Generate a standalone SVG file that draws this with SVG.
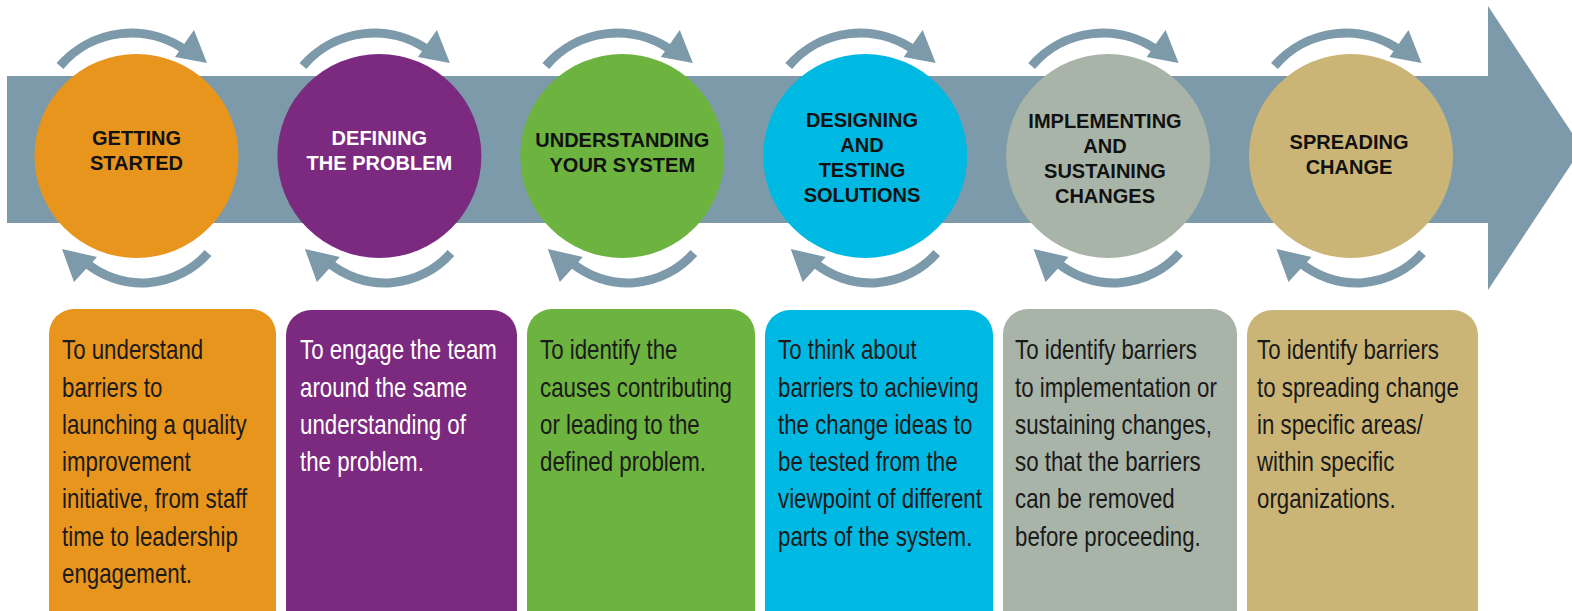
<svg xmlns="http://www.w3.org/2000/svg" xmlns:xlink="http://www.w3.org/1999/xlink" width="1572" height="611" viewBox="0 0 1572 611">
<style>
.ct{font-family:"Liberation Sans",Arial,sans-serif;font-weight:bold;font-size:20px;fill:#111;text-anchor:middle}
.bt{font-family:"Liberation Sans",Arial,sans-serif;font-size:27px;fill:#1a1a1a}
.w{fill:#fff}
.arc{fill:none;stroke:#7C9AAA;stroke-width:9}
.head{fill:#7C9AAA}
</style>
<defs>
<g id="loop">
<path class="arc" d="M-76.5,-90 A94,94 0 0 1 51.5,-104"/>
<polygon class="head" points="57.5,-126 70.5,-93 38.5,-99"/>
<path class="arc" d="M71.5,97 A88,88 0 0 1 -51.5,106"/>
<polygon class="head" points="-74.5,93 -62.5,126 -39.5,101"/>
</g>
</defs>
<rect width="1572" height="611" fill="#fff"/>
<g id="main-arrow">
<polygon fill="#7C9AAA" points="7,76 1488,76 1488,6 1582,148 1488,290 1488,223 7,223"/>
</g>
<g id="connectors">
<use xlink:href="#loop" x="136.5" y="156"/>
<use xlink:href="#loop" x="379.4" y="156"/>
<use xlink:href="#loop" x="622.3" y="156"/>
<use xlink:href="#loop" x="865.2" y="156"/>
<use xlink:href="#loop" x="1108.1" y="156"/>
<use xlink:href="#loop" x="1351" y="156"/>
</g>
<g id="stage1">
<circle cx="136.5" cy="156" r="102" fill="#E8951E"/>
<text class="ct" x="136.5" y="145">GETTING</text>
<text class="ct" x="136.5" y="170">STARTED</text>
</g>
<g id="stage2">
<circle cx="379.4" cy="156" r="102" fill="#7B2A7F"/>
<text class="ct w" x="379.4" y="145">DEFINING</text>
<text class="ct w" x="379.4" y="170">THE PROBLEM</text>
</g>
<g id="stage3">
<circle cx="622.3" cy="156" r="102" fill="#6DB33F"/>
<text class="ct" x="622.3" y="147">UNDERSTANDING</text>
<text class="ct" x="622.3" y="172">YOUR SYSTEM</text>
</g>
<g id="stage4">
<circle cx="865.2" cy="156" r="102" fill="#00B9E3"/>
<text class="ct" x="862" y="127">DESIGNING</text>
<text class="ct" x="862" y="152">AND</text>
<text class="ct" x="862" y="177">TESTING</text>
<text class="ct" x="862" y="202">SOLUTIONS</text>
</g>
<g id="stage5">
<circle cx="1108.1" cy="156" r="102" fill="#A9B4A8"/>
<text class="ct" x="1105" y="128">IMPLEMENTING</text>
<text class="ct" x="1105" y="153">AND</text>
<text class="ct" x="1105" y="178">SUSTAINING</text>
<text class="ct" x="1105" y="203">CHANGES</text>
</g>
<g id="stage6">
<circle cx="1351" cy="156" r="102" fill="#CAB577"/>
<text class="ct" x="1349" y="149">SPREADING</text>
<text class="ct" x="1349" y="174">CHANGE</text>
</g>
<g id="box1">
<rect x="49" y="309" width="227" height="340" rx="25" fill="#E8951E"/>
<g transform="translate(62,0) scale(0.825,1)">
<text class="bt" y="359.3"><tspan x="0">To understand</tspan><tspan x="0" dy="37.3">barriers to</tspan><tspan x="0" dy="37.3">launching a quality</tspan><tspan x="0" dy="37.3">improvement</tspan><tspan x="0" dy="37.3">initiative, from staff</tspan><tspan x="0" dy="37.3">time to leadership</tspan><tspan x="0" dy="37.3">engagement.</tspan></text>
</g>
</g>
<g id="box2">
<rect x="286" y="310" width="231" height="340" rx="25" fill="#7B2A7F"/>
<g transform="translate(300,0) scale(0.825,1)">
<text class="bt w" y="359.3"><tspan x="0">To engage the team</tspan><tspan x="0" dy="37.3">around the same</tspan><tspan x="0" dy="37.3">understanding of</tspan><tspan x="0" dy="37.3">the problem.</tspan></text>
</g>
</g>
<g id="box3">
<rect x="527" y="309" width="228" height="340" rx="25" fill="#6DB33F"/>
<g transform="translate(540,0) scale(0.825,1)">
<text class="bt" y="359.3"><tspan x="0">To identify the</tspan><tspan x="0" dy="37.3">causes contributing</tspan><tspan x="0" dy="37.3">or leading to the</tspan><tspan x="0" dy="37.3">defined problem.</tspan></text>
</g>
</g>
<g id="box4">
<rect x="765" y="310" width="228" height="340" rx="25" fill="#00B9E3"/>
<g transform="translate(778,0) scale(0.825,1)">
<text class="bt" y="359.3"><tspan x="0">To think about</tspan><tspan x="0" dy="37.3">barriers to achieving</tspan><tspan x="0" dy="37.3">the change ideas to</tspan><tspan x="0" dy="37.3">be tested from the</tspan><tspan x="0" dy="37.3">viewpoint of different</tspan><tspan x="0" dy="37.3">parts of the system.</tspan></text>
</g>
</g>
<g id="box5">
<rect x="1003" y="309" width="234" height="340" rx="25" fill="#A9B4A8"/>
<g transform="translate(1015,0) scale(0.825,1)">
<text class="bt" y="359.3"><tspan x="0">To identify barriers</tspan><tspan x="0" dy="37.3">to implementation or</tspan><tspan x="0" dy="37.3">sustaining changes,</tspan><tspan x="0" dy="37.3">so that the barriers</tspan><tspan x="0" dy="37.3">can be removed</tspan><tspan x="0" dy="37.3">before proceeding.</tspan></text>
</g>
</g>
<g id="box6">
<rect x="1247" y="310" width="231" height="340" rx="25" fill="#CAB577"/>
<g transform="translate(1257,0) scale(0.825,1)">
<text class="bt" y="359.3"><tspan x="0">To identify barriers</tspan><tspan x="0" dy="37.3">to spreading change</tspan><tspan x="0" dy="37.3">in specific areas/</tspan><tspan x="0" dy="37.3">within specific</tspan><tspan x="0" dy="37.3">organizations.</tspan></text>
</g>
</g>
</svg>
